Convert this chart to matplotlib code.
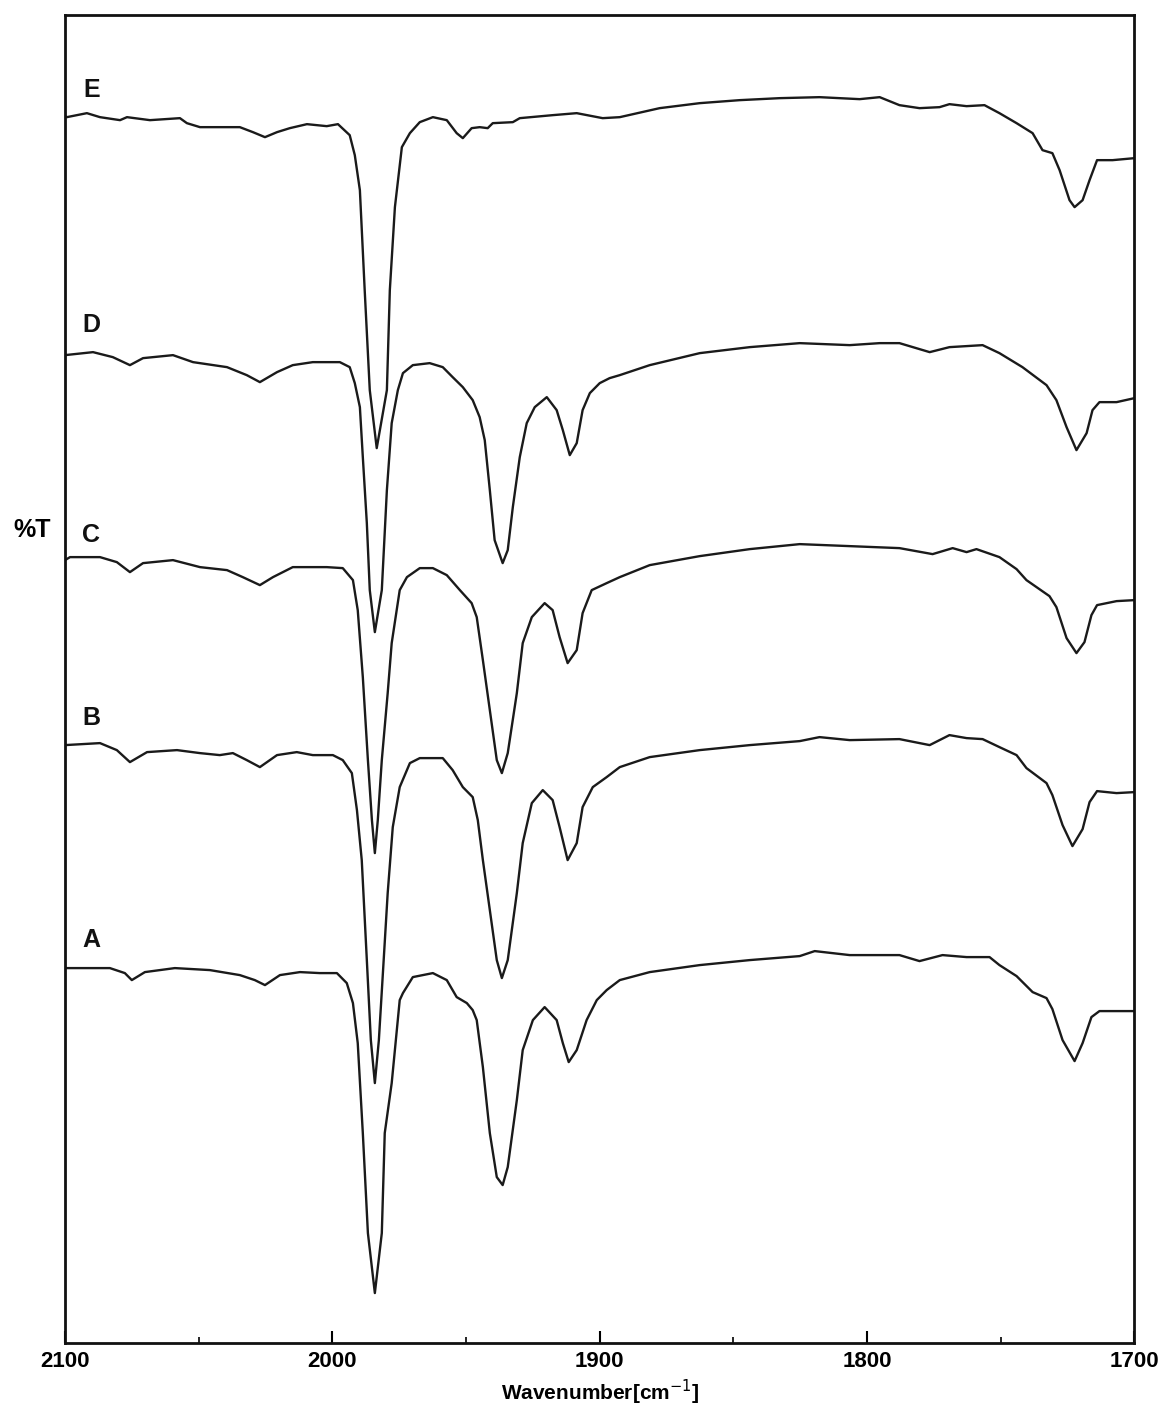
import matplotlib
matplotlib.use("Agg")
import matplotlib.pyplot as plt
from matplotlib.ticker import MultipleLocator

# IR spectra, (wavenumber cm-1, transmittance in arbitrary offset units)
spec_E = [(2100, 1227), (2099.3, 1226), (2091.8, 1230), (2086.9, 1226), (2079.4, 1223),
          (2076.8, 1226), (2068.2, 1223), (2057.0, 1225), (2054.4, 1220), (2049.5, 1216),
          (2034.6, 1216), (2029.7, 1211), (2025.2, 1206), (2020.7, 1211), (2015.9, 1215),
          (2009.5, 1219), (2002.1, 1217), (1997.9, 1219), (1993.5, 1208), (1991.6, 1188),
          (1989.7, 1153), (1987.9, 1053), (1986.0, 953), (1983.4, 895), (1979.6, 953),
          (1978.5, 1053), (1976.6, 1136), (1974.0, 1196), (1971.0, 1210), (1967.3, 1221),
          (1962.4, 1226), (1957.2, 1223), (1953.5, 1210), (1951.2, 1205), (1947.9, 1215),
          (1944.9, 1216), (1941.9, 1215), (1940.0, 1220), (1932.5, 1221), (1929.9, 1225),
          (1917.6, 1228), (1908.6, 1230), (1898.9, 1225), (1892.5, 1226), (1877.6, 1235),
          (1862.6, 1240), (1847.7, 1243), (1832.7, 1245), (1817.8, 1246), (1802.8, 1244),
          (1795.3, 1246), (1787.9, 1238), (1780.4, 1235), (1772.9, 1236), (1769.2, 1239),
          (1762.8, 1237), (1756.1, 1238), (1750.5, 1230), (1744.1, 1220), (1738.1, 1210),
          (1734.4, 1193), (1730.7, 1190), (1728.0, 1173), (1724.3, 1143), (1722.4, 1136),
          (1719.4, 1143), (1716.8, 1163), (1714.0, 1183), (1708.2, 1183), (1700, 1185)]

spec_D = [(2100, 988), (2089.5, 991), (2082.1, 986), (2075.7, 978), (2070.8, 985),
          (2059.6, 988), (2052.1, 981), (2039.4, 976), (2032.0, 968), (2027.1, 961),
          (2020.7, 971), (2014.8, 978), (2007.3, 981), (1997.2, 981), (1993.5, 976),
          (1991.6, 960), (1989.7, 936), (1988.6, 886), (1987.1, 820), (1986.0, 753),
          (1984.1, 711), (1981.5, 753), (1979.6, 853), (1977.8, 920), (1975.5, 953),
          (1973.6, 970), (1969.9, 978), (1963.6, 980), (1958.7, 976), (1955.0, 966),
          (1951.2, 956), (1947.5, 943), (1944.9, 926), (1943.0, 903), (1941.1, 853),
          (1939.3, 803), (1936.3, 780), (1934.4, 793), (1932.5, 836), (1929.9, 886),
          (1927.3, 920), (1924.3, 936), (1919.8, 946), (1916.1, 933), (1913.8, 913),
          (1911.2, 888), (1908.6, 900), (1906.4, 933), (1903.7, 950), (1900.0, 960),
          (1896.3, 965), (1892.5, 968), (1881.3, 978), (1862.6, 990), (1843.9, 996),
          (1825.2, 1000), (1806.5, 998), (1795.3, 1000), (1787.9, 1000), (1776.6, 991),
          (1769.2, 996), (1756.8, 998), (1750.5, 990), (1741.9, 976), (1732.9, 958),
          (1729.2, 943), (1725.4, 916), (1721.7, 893), (1717.9, 910), (1715.7, 933),
          (1713.1, 941), (1706.7, 941), (1700, 945)]

spec_C = [(2100, 783), (2098.1, 786), (2086.9, 786), (2080.6, 781), (2075.7, 771),
          (2070.8, 780), (2059.6, 783), (2049.5, 776), (2039.4, 773), (2033.5, 766),
          (2027.1, 758), (2022.2, 766), (2014.8, 776), (2002.1, 776), (1996.1, 775),
          (1992.3, 763), (1990.5, 733), (1988.6, 666), (1986.7, 583), (1985.2, 523),
          (1984.1, 490), (1983.0, 523), (1981.5, 583), (1979.3, 650), (1977.8, 700),
          (1974.8, 753), (1972.1, 766), (1967.3, 775), (1962.4, 775), (1957.2, 768),
          (1952.3, 753), (1947.9, 740), (1946.0, 726), (1943.7, 683), (1941.1, 633),
          (1938.5, 583), (1936.6, 570), (1934.4, 590), (1931.0, 650), (1928.8, 700),
          (1925.4, 726), (1920.6, 740), (1917.6, 733), (1915.0, 706), (1912.0, 680),
          (1908.6, 693), (1906.4, 730), (1903.0, 753), (1897.4, 760), (1892.5, 766),
          (1881.3, 778), (1862.6, 787), (1843.9, 794), (1825.2, 799), (1806.5, 797),
          (1787.9, 795), (1775.5, 789), (1768.0, 795), (1762.8, 791), (1759.1, 794),
          (1750.5, 786), (1744.1, 774), (1740.4, 763), (1731.8, 747), (1729.2, 736),
          (1725.4, 705), (1721.7, 690), (1718.7, 701), (1716.1, 728), (1714.0, 738),
          (1706.7, 742), (1700, 743)]

spec_B = [(2100, 598), (2086.9, 600), (2080.6, 593), (2075.7, 581), (2069.3, 591),
          (2058.1, 593), (2049.5, 590), (2042.1, 588), (2037.2, 590), (2032.0, 583),
          (2027.1, 576), (2020.7, 588), (2013.3, 591), (2007.3, 588), (1999.8, 588),
          (1996.1, 583), (1992.7, 570), (1990.8, 533), (1989.0, 483), (1987.1, 383),
          (1985.6, 303), (1984.1, 260), (1982.6, 303), (1980.8, 383), (1979.3, 450),
          (1977.4, 516), (1974.8, 556), (1971.0, 580), (1967.3, 585), (1958.7, 585),
          (1955.0, 573), (1951.2, 556), (1947.5, 546), (1945.6, 523), (1943.7, 483),
          (1941.1, 433), (1938.5, 383), (1936.6, 365), (1934.4, 383), (1931.0, 450),
          (1928.8, 500), (1925.4, 540), (1921.3, 553), (1917.6, 543), (1915.0, 516),
          (1912.0, 483), (1908.6, 500), (1906.4, 536), (1902.6, 556), (1897.4, 566),
          (1892.5, 576), (1881.3, 586), (1862.6, 593), (1843.9, 598), (1825.2, 602),
          (1817.8, 606), (1806.5, 603), (1787.9, 604), (1776.6, 598), (1769.2, 608),
          (1762.8, 605), (1756.8, 604), (1750.5, 596), (1744.1, 588), (1740.4, 575),
          (1732.9, 560), (1730.7, 548), (1726.9, 518), (1723.2, 497), (1719.4, 514),
          (1716.8, 541), (1714.0, 552), (1706.7, 550), (1700, 551)]

spec_A = [(2100, 375), (2083.2, 375), (2077.6, 370), (2075.0, 363), (2070.1, 371),
          (2058.9, 375), (2045.8, 373), (2034.6, 368), (2029.0, 363), (2025.2, 358),
          (2019.6, 368), (2012.1, 371), (2004.7, 370), (1998.3, 370), (1994.6, 360),
          (1992.3, 340), (1990.5, 300), (1988.6, 210), (1986.7, 110), (1984.1, 50),
          (1981.5, 110), (1980.4, 210), (1977.8, 260), (1974.8, 343), (1973.6, 350),
          (1969.9, 366), (1962.4, 370), (1957.2, 363), (1953.5, 346), (1949.7, 340),
          (1947.5, 333), (1946.0, 323), (1943.7, 276), (1941.1, 210), (1938.5, 166),
          (1936.3, 158), (1934.4, 176), (1931.0, 243), (1928.8, 293), (1925.0, 323),
          (1920.6, 336), (1916.1, 323), (1913.8, 300), (1911.6, 281), (1908.6, 293),
          (1904.9, 323), (1901.1, 343), (1897.4, 353), (1892.5, 363), (1881.3, 371),
          (1862.6, 378), (1843.9, 383), (1825.2, 387), (1819.6, 392), (1806.5, 388),
          (1787.9, 388), (1780.4, 382), (1771.8, 388), (1762.8, 386), (1754.2, 386),
          (1750.5, 378), (1744.1, 367), (1738.1, 351), (1732.9, 345), (1730.7, 334),
          (1726.9, 303), (1722.4, 282), (1719.4, 300), (1716.1, 326), (1713.1, 332),
          (1706.7, 332), (1700, 332)]

spectra = {"A": spec_A, "B": spec_B, "C": spec_C, "D": spec_D, "E": spec_E}
# where each letter sits (wavenumber, value)
label_pos = {"A": (2093.5, 403), "B": (2093.5, 625), "C": (2093.5, 808),
             "D": (2093.5, 1018), "E": (2093.0, 1253)}

narrow = ["DejaVu Sans Condensed", "Liberation Sans Narrow", "Liberation Sans", "DejaVu Sans"]
bold = ["Liberation Sans", "DejaVu Sans"]

fig = plt.figure(figsize=(11.6, 14.04), dpi=100)
ax = fig.add_axes([0.056, 0.0434, 0.922, 0.9458])

for name, pts in spectra.items():
    wn = [p[0] for p in pts]
    t = [p[1] for p in pts]
    ax.plot(wn, t, color="#1a1a1a", linewidth=1.7)
    lx, ly = label_pos[name]
    ax.text(lx, ly, name, family=bold, fontweight="bold", fontsize=18,
            ha="left", va="center", color="#111111")

ax.set_xlim(2100, 1700)
ax.set_ylim(0, 1328)
ax.xaxis.set_major_locator(MultipleLocator(100))
ax.xaxis.set_minor_locator(MultipleLocator(50))
ax.tick_params(axis="x", which="major", direction="in", length=9, width=1.5,
               pad=6, labelsize=16)
ax.tick_params(axis="x", which="minor", direction="in", length=4, width=1.2)
ax.set_yticks([])
for lab in ax.get_xticklabels():
    lab.set_family(narrow)
    lab.set_fontweight("bold")
for sp in ax.spines.values():
    sp.set_linewidth(2)
    sp.set_color("#111111")

fig.text(600 / 1160, 1 - 1392 / 1404, "Wavenumber[cm$^{-1}$]", family=narrow,
         fontweight="bold", fontsize=15, ha="center", va="center")
fig.text(32 / 1160, 1 - 530 / 1404, "%T", family=bold, fontweight="bold",
         fontsize=18, ha="center", va="center")

fig.savefig("out.png", dpi=100)
